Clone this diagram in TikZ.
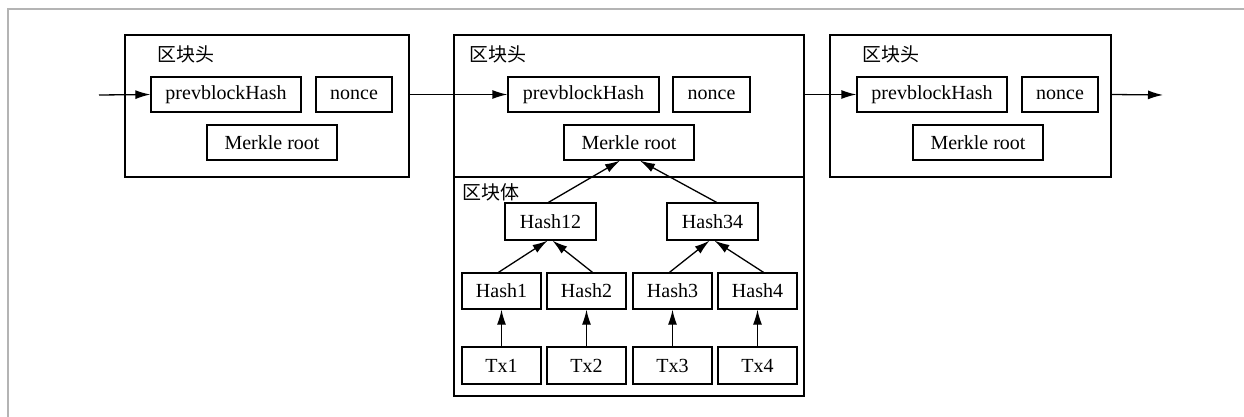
\documentclass[tikz,border=0pt]{standalone}
\usepackage{fontspec}
\setmainfont{Liberation Serif}
\newfontfamily\cjk{Noto Sans CJK SC}
\usetikzlibrary{arrows.meta}
\begin{document}
\begin{tikzpicture}[x=0.5pt,y=-0.5pt,
  bx/.style={draw, line width=0.65pt, inner sep=0pt, font=\fontsize{10}{12}\selectfont},
  hdr/.style={bx, minimum height=17.5pt},
  tr/.style={bx, minimum width=39.5pt},
  arr/.style={line width=0.65pt, -{Latex[length=7.5pt,width=4.5pt]}},
  lbl/.style={anchor=west, inner sep=0pt, font=\cjk\fontsize{9.5}{11}\selectfont}]
\useasboundingbox (0,0) rectangle (1244,417);
\draw[line width=1pt, color={rgb,255:red,180;green,180;blue,180}] (8,417) -- (8,9) -- (1244,9);

% block 1
\node[bx, minimum width=142pt, minimum height=71pt] (blk1) at (267,106) {};
\node[lbl] (h1) at (157,54) {区块头};
\node[hdr, minimum width=75pt] (pb1) at (226,94.5) {prevblockHash};
\node[hdr, minimum width=38pt] (nc1) at (354,94.5) {nonce};
\node[hdr, minimum width=65pt] (mr1) at (272,142.5) {Merkle root};

% block 2
\node[bx, minimum width=175pt, minimum height=180.5pt] (blk2) at (629,215.5) {};
\coordinate (divl) at (454,177);
\coordinate (divr) at (804,177);
\draw[line width=0.65pt] (divl) -- (divr);
\node[lbl] (h2) at (469,54) {区块头};
\node[lbl] (b2) at (462,192) {区块体};
\node[hdr, minimum width=75.5pt] (pb2) at (583.5,94.5) {prevblockHash};
\node[hdr, minimum width=38.5pt] (nc2) at (711.5,94.5) {nonce};
\node[hdr, minimum width=65pt] (mr2) at (629,142.5) {Merkle root};
\node[bx, minimum width=45.5pt, minimum height=18.5pt] (h12) at (550.5,221.5) {Hash12};
\node[bx, minimum width=45.5pt, minimum height=18.5pt] (h34) at (712.5,221.5) {Hash34};
\node[tr, minimum height=18pt] (ha1) at (501.5,291) {Hash1};
\node[tr, minimum height=18pt] (ha2) at (586.5,291) {Hash2};
\node[tr, minimum height=18pt] (ha3) at (672.5,291) {Hash3};
\node[tr, minimum height=18pt] (ha4) at (757.5,291) {Hash4};
\node[tr, minimum height=18.5pt] (tx1) at (501.5,365.5) {Tx1};
\node[tr, minimum height=18.5pt] (tx2) at (586.5,365.5) {Tx2};
\node[tr, minimum height=18.5pt] (tx3) at (672.5,365.5) {Tx3};
\node[tr, minimum height=18.5pt] (tx4) at (757.5,365.5) {Tx4};

% block 3
\node[bx, minimum width=140.5pt, minimum height=71pt] (blk3) at (970.5,106) {};
\node[lbl] (h3) at (862,54) {区块头};
\node[hdr, minimum width=75pt] (pb3) at (932,94.5) {prevblockHash};
\node[hdr, minimum width=38pt] (nc3) at (1060,94.5) {nonce};
\node[hdr, minimum width=65pt] (mr3) at (978,142.5) {Merkle root};

% chain arrows
\coordinate (in) at (99,95);
\coordinate (out) at (1163,95);
\draw[arr] (in) -- (pb1.west);
\draw[arr] (blk1.east |- pb2.west) -- (pb2.west);
\draw[arr] (blk2.east |- pb3.west) -- (pb3.west);
\draw[arr] (blk3.east |- nc3.east) -- (out);

% merkle tree arrows
\draw[arr] ([xshift=-1pt]h12.north) -- ([xshift=-4.5pt]mr2.south);
\draw[arr] ([xshift=2pt]h34.north) -- ([xshift=5.5pt]mr2.south);
\draw[arr] ([xshift=-1.5pt]ha1.north) -- ([xshift=-1.5pt]h12.south);
\draw[arr] ([xshift=3pt]ha2.north) -- ([xshift=1pt]h12.south);
\draw[arr] ([xshift=-1.5pt]ha3.north) -- ([xshift=-1.5pt]h34.south);
\draw[arr] ([xshift=3pt]ha4.north) -- ([xshift=1pt]h34.south);
\draw[arr] (tx1) -- (ha1);
\draw[arr] (tx2) -- (ha2);
\draw[arr] (tx3) -- (ha3);
\draw[arr] (tx4) -- (ha4);
\end{tikzpicture}
\end{document}
